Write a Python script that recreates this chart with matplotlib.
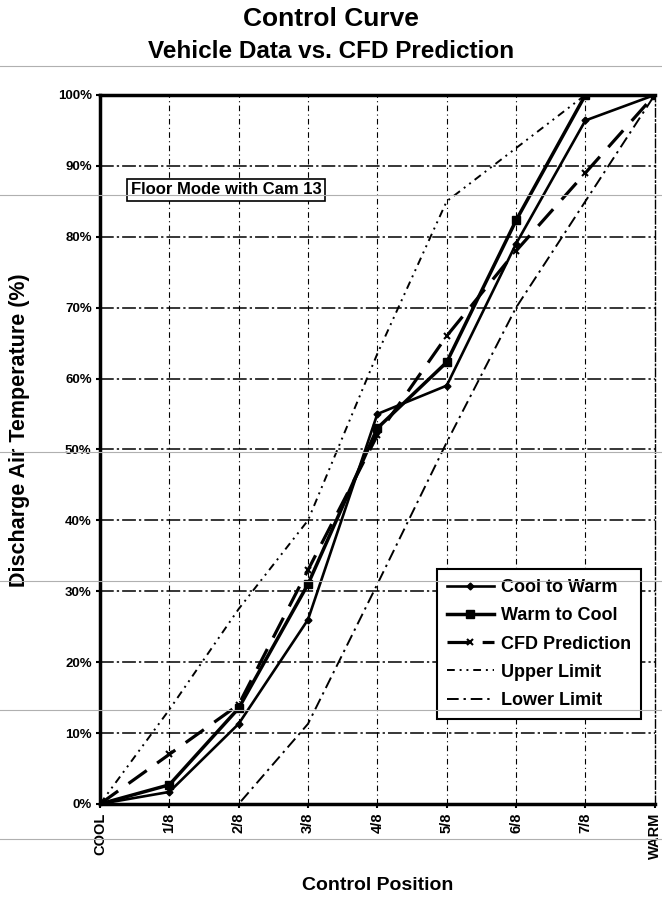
import numpy as np
import matplotlib
matplotlib.use("Agg")
import matplotlib.pyplot as plt
from matplotlib.lines import Line2D

plt.rcParams['font.family'] = ['Liberation Sans', 'DejaVu Sans']
plt.rcParams['font.weight'] = 'bold'

# positions of the control knob
positions = ['COOL', '1/8', '2/8', '3/8', '4/8', '5/8', '6/8', '7/8', 'WARM']

# discharge air temperature, % of range
cool_to_warm = [0, 1.7, 11.3, 26, 55, 59, 79, 96.4, 100]
warm_to_cool = [0, 2.7, 13.5, 31, 53, 62.3, 82.3, 100, 100]
cfd_prediction = [0, 7, 14, 33, 52, 66, 78, 89, 100]
upper_limit = [0, 13.3, 27.5, 40, 63.5, 85, 92.5, 100, 100]
lower_limit = [0, 0, 0, 11.3, 31, 51, 70, 85, 100]

x = np.arange(len(positions))

fig = plt.figure(figsize=(6.62, 9.0), dpi=100)
ax = fig.add_axes([0.151, 0.1067, 0.838, 0.7878])

# grid
for v in range(10, 100, 10):
    ax.axhline(v, color='black', lw=1.1, dashes=(9, 2, 1.5, 2), zorder=1)
for xi in x[1:-1]:
    ax.axvline(xi, color='black', lw=0.8, dashes=(5, 3, 1, 3), zorder=1)

ax.plot(x, upper_limit, color='black', lw=1.4, dashes=(4, 2.5, 1, 2.5, 1, 2.5),
        label='Upper Limit', zorder=2)
ax.plot(x, lower_limit, color='black', lw=1.4, dashes=(6, 2.5, 1.2, 2.5),
        label='Lower Limit', zorder=2)
ax.plot(x, cfd_prediction, color='black', lw=2.3, dashes=(7, 4), marker='x',
        ms=4, mew=1.5, label='CFD Prediction', zorder=3)
ax.plot(x, warm_to_cool, color='black', lw=2.5, marker='s', ms=5.5,
        label='Warm to Cool', zorder=4)
ax.plot(x, cool_to_warm, color='black', lw=1.9, marker='D', ms=3.5,
        label='Cool to Warm', zorder=4)

ax.set_xlim(0, len(positions) - 1)
ax.set_ylim(0, 100)
ax.set_xticks(x)
ax.set_xticklabels(positions, rotation=90, fontsize=10.5, fontweight='bold')
ax.set_yticks(range(0, 101, 10))
ax.set_yticklabels([f'{v}%' for v in range(0, 101, 10)], fontsize=9.5, fontweight='bold')
ax.tick_params(direction='out', length=3, width=1.5, pad=3)

ax.spines['left'].set_linewidth(2.5)
ax.spines['bottom'].set_linewidth(2.5)
ax.spines['top'].set_linewidth(2.5)
ax.spines['right'].set_linewidth(1.0)
ax.spines['right'].set_linestyle((0, (6, 2, 1, 2)))

ax.set_xlabel('Control Position', fontsize=14, fontweight='bold', labelpad=13)
ax.set_ylabel('Discharge Air Temperature (%)', fontsize=15.5, fontweight='bold')
ax.yaxis.set_label_coords(-0.126, 0.527)

ax.text(0.227, 0.866, 'Floor Mode with Cam 13', transform=ax.transAxes,
        ha='center', va='center', fontsize=12, fontweight='bold',
        bbox=dict(boxstyle='square,pad=0.2', fc='white', ec='black', lw=1.2), zorder=6)

handles, labels = ax.get_legend_handles_labels()
order = [4, 3, 2, 0, 1]
leg = ax.legend([handles[i] for i in order], [labels[i] for i in order],
                loc='lower right', bbox_to_anchor=(0.975, 0.12), fancybox=False,
                framealpha=1, edgecolor='black', fontsize=13, handlelength=2.6,
                handletextpad=0.4, labelspacing=0.62, borderpad=0.55, borderaxespad=0)
leg.get_frame().set_linewidth(1.5)
leg.set_zorder(7)
for t in leg.get_texts():
    t.set_fontweight('bold')

fig.text(0.5, 1 - 19 / 900, 'Control Curve', ha='center', va='center',
         fontsize=19, fontweight='bold')
fig.text(0.5, 1 - 51 / 900, 'Vehicle Data vs. CFD Prediction', ha='center',
         va='center', fontsize=17.5, fontweight='bold')

# faint horizontal scan lines across the page
for yp in [66, 195, 452, 581, 710, 839]:
    fig.add_artist(Line2D([0, 1], [1 - yp / 900, 1 - yp / 900],
                          transform=fig.transFigure, color='#b0b0b0', lw=0.8, zorder=10))

fig.savefig('out.png', dpi=100)
